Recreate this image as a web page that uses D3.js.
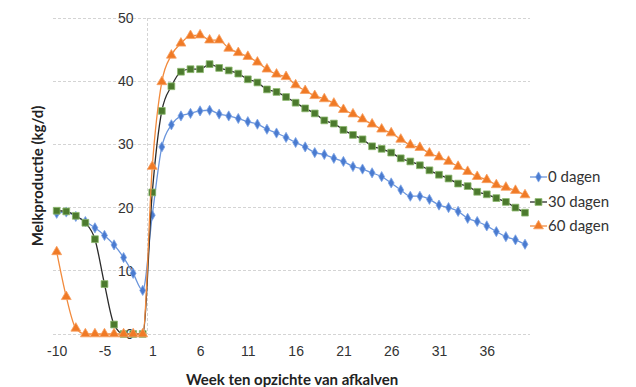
<!DOCTYPE html>
<meta charset="utf-8">
<style>
body { margin: 0; background: #fff; }
svg { font-family: Lato, "Open Sans", sans-serif; }
.grid line { stroke: #d4d4d4; stroke-dasharray: 3,2; shape-rendering: crispEdges; }
.axis path, .axis line { display: none; }
.axis text { font-size: 14px; fill: #333; }
.title { font-size: 15px; font-weight: bold; fill: #222; }
.legend text { font-size: 15px; fill: #333; }
</style>
<body>
<svg id="chart" width="636" height="387"></svg>
<script src="https://cdn.jsdelivr.net/npm/d3@7"></script>
<script>

// weeks relative to calving (no week 0)
var weeks = [-10, -9, -8, -7, -6, -5, -4, -3, -2, -1,
  1, 2, 3, 4, 5, 6, 7, 8, 9, 10, 11, 12, 13, 14, 15, 16, 17, 18, 19, 20,
  21, 22, 23, 24, 25, 26, 27, 28, 29, 30, 31, 32, 33, 34, 35, 36, 37, 38, 39, 40];

var xTickLabels = [-10, -5, 1, 6, 11, 16, 21, 26, 31, 36];
var yTicks = [0, 10, 20, 30, 40, 50];

var dagen0 = [19.1, 19.3, 18.6, 17.8, 16.8, 15.6, 14.1, 12.1, 9.6, 6.9,
  18.8, 29.6, 33.1, 34.5, 34.9, 35.3, 35.4, 34.8, 34.5, 34.1, 33.6, 33.2, 32.4, 31.8, 31.1, 30.3, 29.6, 28.7, 28.4, 27.8,
  27.3, 26.5, 26.1, 25.5, 24.9, 23.9, 22.8, 21.8, 21.8, 21.3, 20.4, 20.0, 19.4, 18.3, 17.8, 17.1, 16.2, 15.4, 14.9, 14.2];

var dagen30 = [19.5, 19.4, 18.7, 17.6, 15.0, 7.9, 1.5, 0, 0, 0,
  22.4, 35.3, 39.2, 41.5, 41.9, 41.9, 42.7, 42.1, 41.7, 41.2, 40.3, 39.8, 38.7, 38.3, 37.5, 36.6, 35.7, 34.9, 33.8, 33.3,
  32.3, 31.5, 30.8, 29.7, 29.3, 28.7, 27.8, 27.3, 26.7, 25.9, 25.2, 24.6, 23.8, 23.4, 22.5, 22.1, 21.5, 20.9, 20.0, 19.2];

var dagen60 = [13.0, 5.9, 0.9, 0, 0, 0, 0, 0, 0, 0,
  26.5, 39.9, 44.1, 46.0, 47.2, 47.3, 46.5, 46.5, 45.2, 44.5, 43.9, 43.0, 41.9, 41.1, 40.7, 39.4, 38.5, 37.7, 37.2, 36.5,
  35.5, 34.8, 34.0, 33.2, 32.4, 31.8, 30.8, 29.9, 29.5, 28.6, 28.0, 27.3, 26.5, 25.7, 24.9, 24.4, 23.6, 23.2, 22.7, 22.0];

var seriesNames = ["0 dagen", "30 dagen", "60 dagen"];

var series = [
  { name: seriesNames[0], values: dagen0, line: "#6a95dc", fill: "#4a7bd0", stroke: "#7fa6e6", symbol: d3.symbolDiamond, size: 30 },
  { name: seriesNames[1], values: dagen30, line: "#2b2b2b", fill: "#4c7a2e", stroke: "#8db96f", symbol: d3.symbolSquare, size: 46 },
  { name: seriesNames[2], values: dagen60, line: "#f28a3c", fill: "#f07a26", stroke: "#f7a061", symbol: d3.symbolTriangle, size: 42 }
];

var svg = d3.select("#chart");

var x = d3.scalePoint().domain(weeks).range([56.7, 525]);
var y = d3.scaleLinear().domain([0, 50]).range([334, 18]);

var gridLeft = 53, gridRight = 530;
var axisX = (x(-1) + x(1)) / 2;

// horizontal gridlines
svg.append("g").attr("class", "grid")
  .selectAll("line").data(yTicks).enter().append("line")
    .attr("x1", gridLeft).attr("x2", gridRight)
    .attr("y1", function(d) { return y(d); })
    .attr("y2", function(d) { return y(d); });

// vertical axis line (crosses between week -1 and 1)
svg.append("g").attr("class", "grid").append("line")
  .attr("x1", axisX).attr("x2", axisX)
  .attr("y1", y(50)).attr("y2", y(0));

// y axis labels
svg.append("g").attr("class", "axis")
  .attr("transform", "translate(" + axisX + ",0)")
  .call(d3.axisLeft(y).tickValues(yTicks).tickSize(0).tickPadding(14));

// x axis labels
svg.append("g").attr("class", "axis")
  .attr("transform", "translate(0,344)")
  .call(d3.axisBottom(x).tickValues(xTickLabels).tickSize(0).tickPadding(2));

svg.append("text").attr("class", "title")
  .attr("x", 292).attr("y", 385).attr("text-anchor", "middle")
  .text("Week ten opzichte van afkalven");

svg.append("text").attr("class", "title")
  .attr("transform", "translate(43," + ((y(0) + y(50)) / 2) + ") rotate(-90)")
  .attr("text-anchor", "middle")
  .text("Melkproductie (kg/d)");

var line = d3.line()
  .x(function(d, i) { return x(weeks[i]); })
  .y(function(d) { return y(d); })
  .curve(d3.curveMonotoneX);

series.forEach(function(s) {
  var g = svg.append("g");
  g.append("path")
    .attr("d", line(s.values))
    .attr("fill", "none")
    .attr("stroke", s.line)
    .attr("stroke-width", 1.3);
  g.selectAll("path.m").data(s.values).enter().append("path")
    .attr("class", "m")
    .attr("transform", function(d, i) { return "translate(" + x(weeks[i]) + "," + y(d) + ")"; })
    .attr("d", d3.symbol().type(s.symbol).size(s.size))
    .attr("fill", s.fill)
    .attr("stroke", s.stroke)
    .attr("stroke-width", 0.8);
});

// legend
var legend = svg.append("g").attr("class", "legend");
var legY = [177, 202, 226];
series.forEach(function(s, i) {
  var g = legend.append("g").attr("transform", "translate(530," + legY[i] + ")");
  g.append("line").attr("x1", 0).attr("x2", 17).attr("stroke", s.line).attr("stroke-width", 1.3);
  g.append("path").attr("transform", "translate(8.5,0)")
    .attr("d", d3.symbol().type(s.symbol).size(s.size))
    .attr("fill", s.fill).attr("stroke", s.stroke).attr("stroke-width", 0.8);
  g.append("text").attr("x", 18).attr("dy", "0.35em").text(s.name);
});

</script>
</body>
</html>
